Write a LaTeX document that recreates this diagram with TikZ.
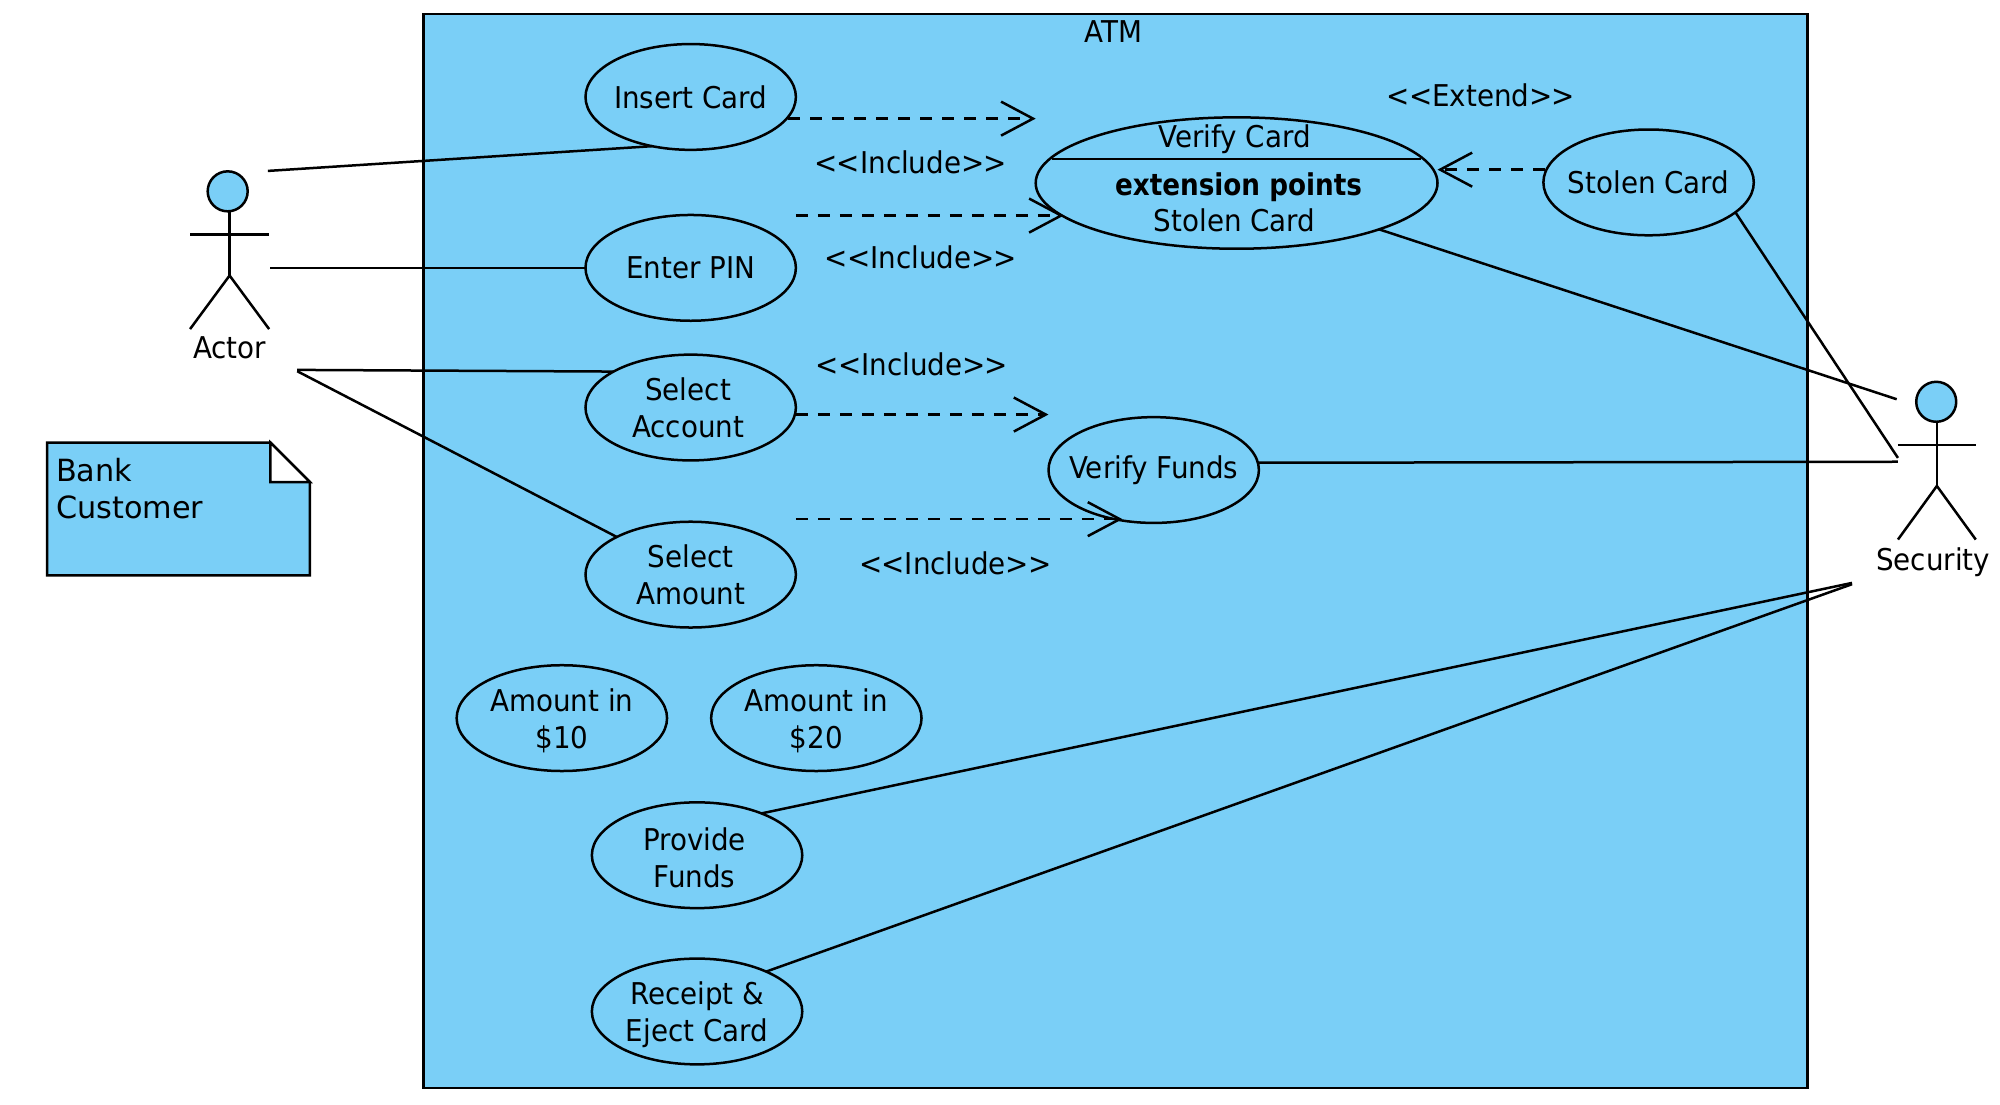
\documentclass[tikz,border=0pt]{standalone}
\usepackage{fontspec}
\setmainfont[FakeStretch=0.925]{DejaVu Sans}
\newfontfamily\vbold[FakeStretch=0.875]{DejaVu Sans}
\newfontfamily\notefont[FakeStretch=0.99]{DejaVu Sans}
\usetikzlibrary{shapes.geometric,arrows.meta}
\definecolor{umlblue}{HTML}{7ACFF7}
\newcommand{\lowr}[1]{\rule{0pt}{#1pt}}
\newcommand{\stc}{{>}\kern-0.5pt{>}}
\newcommand{\sto}{{<}\kern-0.5pt{<}}
\newcommand{\rk}{\kern2.6pt}
\tikzset{
  line/.style={draw=black,line width=1.25pt},
  usecase/.style={ellipse,line,fill=umlblue,minimum width=105.2pt,minimum height=52.9pt,inner xsep=-12pt,inner ysep=0pt,outer sep=0pt,align=center},
  txt/.style={inner sep=0pt,outer sep=0pt,align=center},
  assoc/.style={line},
  dep/.style={line,dash pattern=on 6pt off 5pt,-{Straight Barb[length=16pt,width=17pt,line width=1.25pt]}},
  headshape/.style={ellipse,line,fill=umlblue,minimum width=20pt,minimum height=20pt,inner sep=0pt,outer sep=0pt}
}
\begin{document}
\begin{tikzpicture}[x=0.63775pt,y=-0.63775pt,font=\fontsize{15}{18.5}\selectfont]
\useasboundingbox (0,0) rectangle (1568,865.6);
\draw[line,fill=umlblue] (332,11) rectangle (1417,853);
\node[txt] (atm) at (873,25) {ATM};
% use cases
\node[usecase] (insert) at (541.5,76) {Insert Card};
\node[usecase] (enter) at (541.5,210) {Enter PIN};
\node[usecase] (selacc) at (541.5,319.5) {Select\rk\\Account\rk};
\node[usecase] (selamt) at (541.5,450.5) {Select\\Amount};
\node[usecase,minimum width=200.9pt,minimum height=65.7pt] (verify) at (969.5,143.5) {};
\node[txt] (vtitle) at (968,109) {Verify Card};
\node[txt,font=\fontsize{15}{18.5}\vbold\bfseries\selectfont] (vext) at (971,147) {extension points};
\node[txt] (vstolen) at (968,173) {Stolen Card};
\coordinate (vdl) at (825,125);
\coordinate (vdr) at (1114,125);
\draw[line width=1pt] (vdl) -- (vdr);
\node[usecase] (stolen) at (1292.5,143) {Stolen Card};
\node[usecase] (funds) at (904.5,368.5) {Verify Funds};
\node[usecase] (a10) at (440.5,563) {\lowr{14}Amount in\\\$10};
\node[usecase] (a20) at (640,563) {\lowr{14}Amount in\\\$20};
\node[usecase] (provide) at (546.5,670.5) {\lowr{14}Provide\rk\\Funds\rk};
\node[usecase] (receipt) at (546.5,793) {\lowr{14.6}Receipt \&\\Eject Card};
% labels
\node[txt] (l1) at (714,127) {\sto Include\stc};
\node[txt] (l2) at (722,202) {\sto Include\stc};
\node[txt] (l3) at (715,286) {\sto Include\stc};
\node[txt] (l4) at (749,442) {\sto Include\stc};
\node[txt] (l5) at (1161,75) {\sto Extend\stc};
% Actor
\node[headshape] (ahead) at (178.5,150) {};
\coordinate (ahip) at (180,216);
\coordinate (aneck) at (180,165.5);
\draw[line] (aneck) -- (ahip);
\draw[line] (149,184) -- (211,184);
\draw[line] (149,258) -- (ahip) -- (211,258);
\node[txt] (alabel) at (180,273) {Actor};
% Security
\node[headshape] (shead) at (1518,315) {};
\coordinate (ship) at (1518.5,381);
\coordinate (sneck) at (1518.5,330.5);
\draw[line] (sneck) -- (ship);
\draw[line] (1488,349) -- (1549,349);
\draw[line] (1488,423) -- (ship) -- (1549,423);
\node[txt] (slabel) at (1515.5,440.5) {Security};
% note
\draw[line,fill=umlblue] (37,347) -- (212,347) -- (243,378) -- (243,451) -- (37,451) -- cycle;
\draw[line,fill=white] (212,347) -- (243,378) -- (212,378) -- cycle;
\node[txt,align=left,anchor=north west,font=\fontsize{15.3}{18.5}\notefont\selectfont] (note) at (44,359) {Bank\\Customer};
% free ends
\coordinate (a1) at (210,134);
\coordinate (a2) at (212,210);
\coordinate (a3) at (233,290);
\coordinate (a4) at (233,291);
\coordinate (s1) at (1487,313);
\coordinate (s2) at (1488,359);
\coordinate (s3) at (1488,362);
\coordinate (s4) at (1452,457);
\coordinate (s5) at (1452,458);
% associations
\draw[assoc] (a1) -- (insert.232);
\draw[assoc] (a2) -- (enter.west);
\draw[assoc] (a3) -- (selacc.155.6);
\draw[assoc] (a4) -- (selamt.153.6);
\draw[assoc] (verify.-18.1) -- (s1);
\draw[assoc] (stolen.-19.5) -- (s2);
\draw[assoc] (funds.4.5) -- (s3);
\draw[assoc] (provide.33.3) -- (s4);
\draw[assoc] (receipt.30.4) -- (s5);
% dependencies
\coordinate (d1s) at (618,93);
\coordinate (d1t) at (812,93);
\coordinate (d2s) at (624,169);
\coordinate (d2t) at (834,169);
\coordinate (d3s) at (624,325);
\coordinate (d3t) at (822,325);
\coordinate (d4s) at (624,407);
\coordinate (d4t) at (880,407);
\coordinate (d5s) at (1211,133);
\coordinate (d5t) at (1127,133);
\draw[dep] (d1s) -- (d1t);
\draw[dep] (d2s) -- (d2t);
\draw[dep] (d3s) -- (d3t);
\draw[dep] (d4s) -- (d4t);
\draw[dep] (d5s) -- (d5t);
\end{tikzpicture}
\end{document}
